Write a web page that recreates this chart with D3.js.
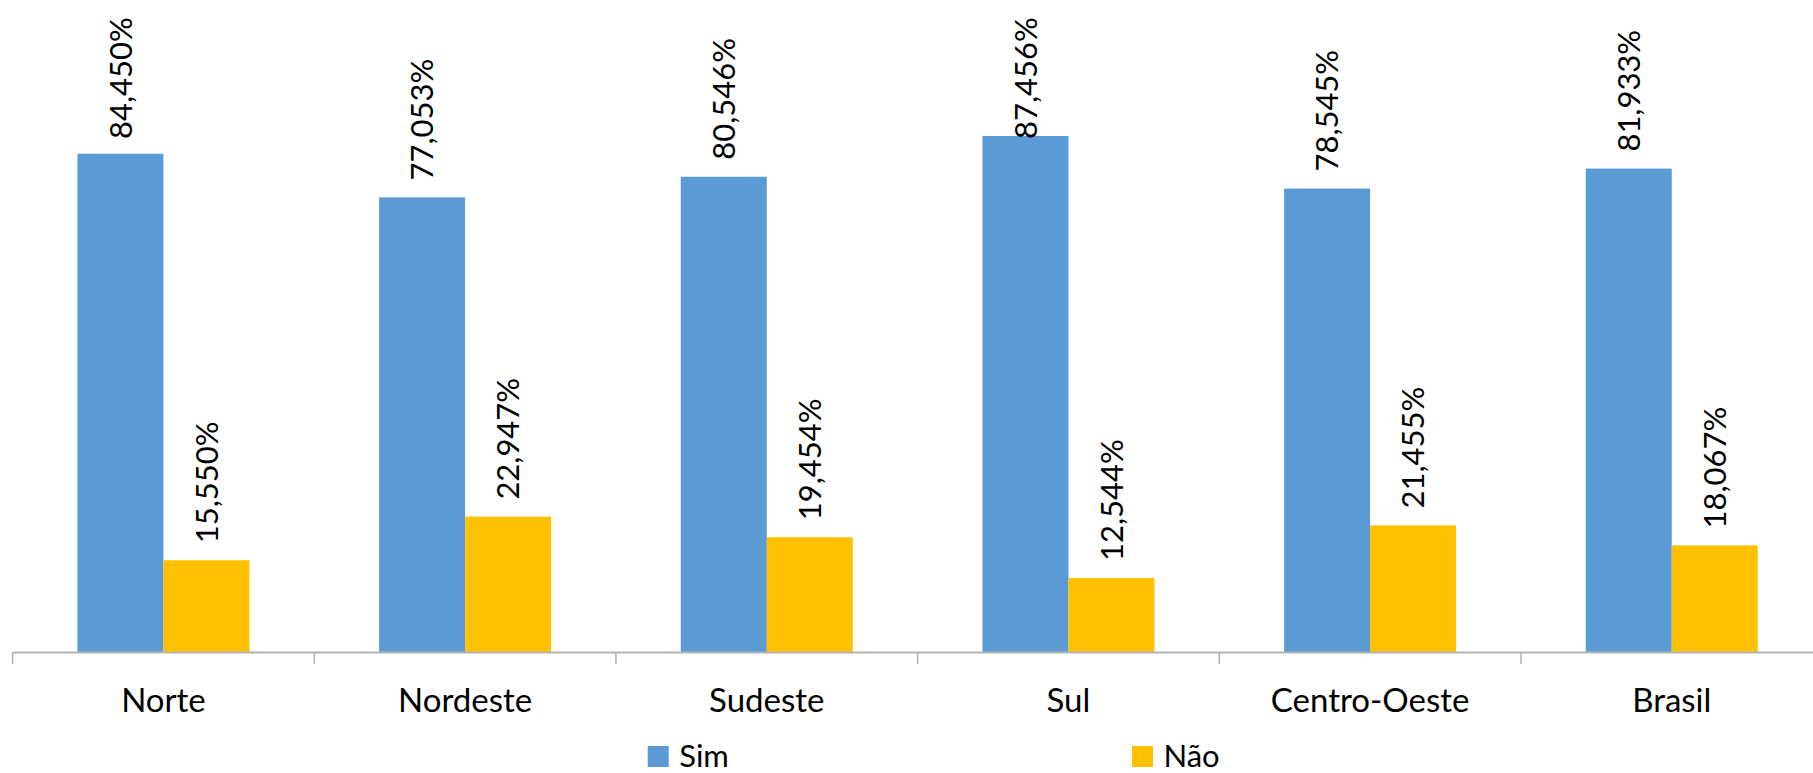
<!DOCTYPE html>
<html><head><meta charset="utf-8">
<script src="https://cdn.jsdelivr.net/npm/d3@7"></script>
<style>
html,body{margin:0;padding:0;background:#fff;}
svg{display:block;}
text{font-family:Lato, "Open Sans", sans-serif;fill:#000;}
</style></head>
<body>
<svg id="chart" width="1813" height="773"></svg>
<script>
const categories = ["Norte","Nordeste","Sudeste","Sul","Centro-Oeste","Brasil"];
const seriesNames = ["Sim","Não"];
const simValues = [84.450, 77.053, 80.546, 87.456, 78.545, 81.933];
const naoValues = [15.550, 22.947, 19.454, 12.544, 21.455, 18.067];
const colors = ["#5B9BD5","#FFC000"];

const svg = d3.select("#chart");
const W = 1813, H = 773;
const axisY = 652;

const x = d3.scaleBand().domain(categories).range([12.6, 1822.6]).paddingInner(0).paddingOuter(0);
const x1 = d3.scaleBand().domain(seriesNames).range([x.bandwidth()/2 - 86, x.bandwidth()/2 + 86]);
const y = d3.scaleLinear().domain([0, 100]).range([axisY, 62]);

const fmt = v => d3.format(".3f")(v).replace(".", ",") + "%";

const data = categories.map((c, i) => ({cat: c, vals: [
  {s: "Sim", v: simValues[i], ci: 0},
  {s: "Não", v: naoValues[i], ci: 1}
]}));

const groups = svg.append("g").selectAll("g").data(data).join("g")
  .attr("transform", d => `translate(${x(d.cat)},0)`);

groups.selectAll("rect").data(d => d.vals).join("rect")
  .attr("x", d => x1(d.s))
  .attr("width", x1.bandwidth())
  .attr("y", d => y(d.v))
  .attr("height", d => axisY - y(d.v))
  .attr("fill", d => colors[d.ci]);

// labels sit above the bar, but are pushed down to stay inside the chart (as Excel does)
const labelMinStart = 139;
groups.selectAll("text.lbl").data(d => d.vals).join("text")
  .attr("class", "lbl")
  .attr("transform", d => `translate(${x1(d.s) + x1.bandwidth()/2},${Math.max(y(d.v) - 17, labelMinStart)}) rotate(-90)`)
  .attr("dy", "0.36em")
  .attr("text-anchor", "start")
  .style("font-size", "31px")
  .text(d => fmt(d.v));

// x axis
const axis = d3.axisBottom(x).tickSize(0).tickFormat("");
const ax = svg.append("g").attr("transform", `translate(0,${axisY})`).call(axis);
ax.select(".domain").attr("stroke", "#B3B3B3").attr("stroke-width", 2);
const bounds = categories.map(c => x(c));
svg.append("g").selectAll("line").data(bounds).join("line")
  .attr("x1", d => d).attr("x2", d => d)
  .attr("y1", axisY).attr("y2", axisY + 12)
  .attr("stroke", "#B3B3B3").attr("stroke-width", 1.5);

svg.append("g").selectAll("text").data(categories).join("text")
  .attr("x", d => x(d) + x.bandwidth()/2)
  .attr("y", 712)
  .attr("text-anchor", "middle")
  .style("font-size", "33px")
  .text(d => d);

// legend
const legendPos = [647.7, 1132];
const leg = svg.append("g").selectAll("g").data(seriesNames).join("g")
  .attr("transform", (d, i) => `translate(${legendPos[i]},746)`);
leg.append("rect").attr("width", 21).attr("height", 21).attr("fill", (d, i) => colors[i]);
leg.append("text").attr("x", 31.5).attr("y", 21).style("font-size", "31px").text(d => d);
</script>
</body></html>
